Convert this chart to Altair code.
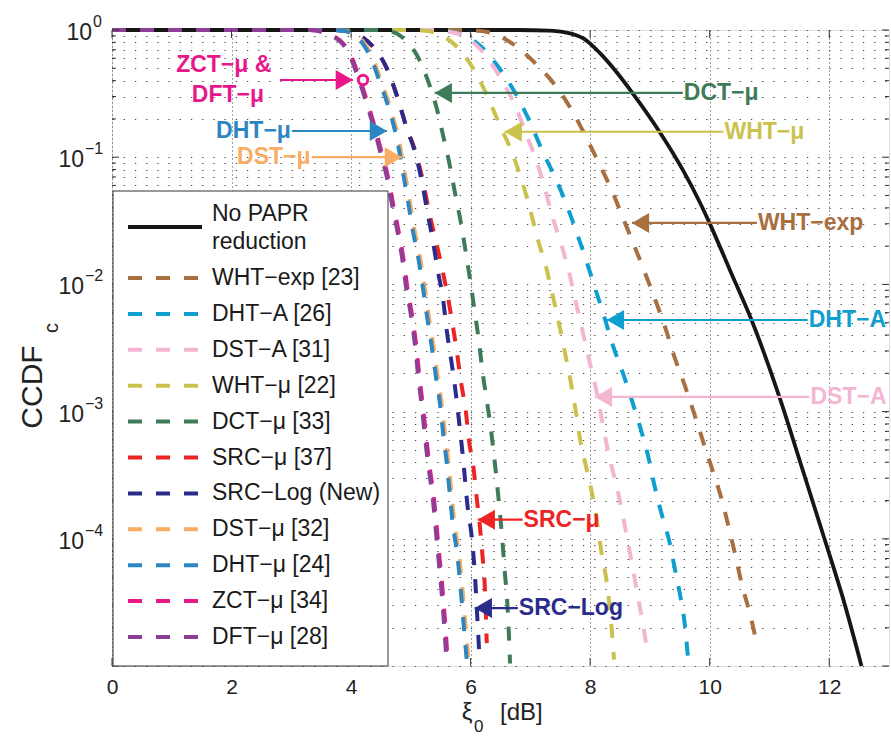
import altair as alt
import pandas as pd

# ---------------- values ----------------
series_names = ["No PAPR reduction", "WHT−exp [23]", "DHT−A [26]", "DST−A [31]",
                "WHT−μ [22]", "DCT−μ [33]", "SRC−μ [37]", "SRC−Log (New)",
                "DST−μ [32]", "DHT−μ [24]", "ZCT−μ [34]", "DFT−μ [28]"]
legend_labels = ["No PAPR\nreduction", "WHT−exp [23]", "DHT−A [26]", "DST−A [31]",
                 "WHT−μ [22]", "DCT−μ [33]", "SRC−μ [37]", "SRC−Log (New)",
                 "DST−μ [32]", "DHT−μ [24]", "ZCT−μ [34]", "DFT−μ [28]"]

# x: xi_0 [dB];  log10 of CCDF
nopapr_x = [0, 6.8, 7.3, 7.6, 7.9, 8.16, 8.44, 8.70, 9.16, 9.55, 9.83, 10.0, 10.35, 10.70, 11.17, 11.55, 11.92, 12.25, 12.54]
nopapr_log10 = [0, 0, -0.005, -0.02, -0.07, -0.18, -0.33, -0.49, -0.80, -1.10, -1.35, -1.52, -1.90, -2.28, -2.89, -3.45, -4.0, -4.5, -5.0]

whtexp_x = [0, 5.9, 6.1, 6.32, 6.55, 6.77, 7.11, 7.44, 7.71, 7.94, 8.16, 8.38, 8.56, 8.75, 8.91, 9.08, 9.25, 9.41, 9.58, 9.75, 9.90, 10.04, 10.17, 10.38, 10.55, 10.68, 10.80]
whtexp_log10 = [0, 0, -0.005, -0.02, -0.065, -0.13, -0.275, -0.45, -0.645, -0.85, -1.06, -1.28, -1.49, -1.71, -1.9, -2.11, -2.33, -2.57, -2.79, -3.03, -3.25, -3.45, -3.64, -4.03, -4.38, -4.6, -4.85]

dhta_x = [0, 5.2, 5.45, 5.70, 5.92, 6.15, 6.44, 6.74, 6.99, 7.21, 7.41, 7.61, 7.78, 7.94, 8.09, 8.24, 8.38, 8.55, 8.71, 8.86, 8.98, 9.08, 9.21, 9.33, 9.41, 9.50, 9.58, 9.64]
dhta_log10 = [0, 0, -0.004, -0.016, -0.05, -0.12, -0.275, -0.49, -0.72, -0.96, -1.155, -1.38, -1.6, -1.82, -2.04, -2.26, -2.48, -2.70, -2.93, -3.16, -3.37, -3.59, -3.83, -4.03, -4.22, -4.43, -4.66, -4.95]

dsta_x = [0, 5.3, 5.6, 5.85, 6.2, 6.49, 6.74, 6.94, 7.11, 7.24, 7.37, 7.52, 7.65, 7.76, 7.88, 7.99, 8.11, 8.2, 8.29, 8.38, 8.46, 8.54, 8.62, 8.71, 8.80, 8.88, 8.95]
dsta_log10 = [0, 0, -0.01, -0.04, -0.17, -0.37, -0.59, -0.83, -1.04, -1.24, -1.47, -1.69, -1.91, -2.14, -2.38, -2.61, -2.85, -3.07, -3.29, -3.47, -3.62, -3.8, -4.0, -4.22, -4.46, -4.66, -4.87]

whtmu_x = [0, 4.9, 5.15, 5.37, 5.58, 5.79, 6.04, 6.29, 6.49, 6.69, 6.86, 6.99, 7.12, 7.26, 7.37, 7.48, 7.58, 7.68, 7.76, 7.84, 7.94, 8.03, 8.11, 8.19, 8.28, 8.34, 8.40]
whtmu_log10 = [0, 0, -0.004, -0.016, -0.06, -0.14, -0.30, -0.53, -0.75, -0.96, -1.19, -1.40, -1.64, -1.86, -2.08, -2.31, -2.54, -2.78, -3.0, -3.24, -3.45, -3.64, -3.85, -4.11, -4.35, -4.6, -4.95]

dctmu_x = [0, 4.35, 4.6, 4.77, 4.95, 5.1, 5.28, 5.43, 5.54, 5.65, 5.75, 5.84, 5.92, 6.0, 6.07, 6.14, 6.2, 6.27, 6.34, 6.40, 6.46, 6.52, 6.57, 6.62, 6.66]
dctmu_log10 = [0, 0, -0.005, -0.03, -0.1, -0.197, -0.39, -0.61, -0.83, -1.06, -1.31, -1.52, -1.75, -1.99, -2.22, -2.45, -2.69, -2.91, -3.14, -3.38, -3.65, -3.95, -4.25, -4.55, -4.98]

srcmu_x = [0, 3.75, 4.0, 4.2, 4.4, 4.57, 4.78, 4.93, 5.08, 5.2, 5.31, 5.42, 5.53, 5.62, 5.70, 5.77, 5.84, 5.92, 5.97, 6.05, 6.10, 6.15, 6.20, 6.24, 6.27]
srcmu_log10 = [0, 0, -0.015, -0.06, -0.15, -0.275, -0.535, -0.77, -0.96, -1.18, -1.44, -1.66, -1.89, -2.1, -2.32, -2.53, -2.77, -3.0, -3.22, -3.45, -3.67, -3.88, -4.14, -4.4, -4.82]

srclog_x = [0, 3.75, 4.0, 4.2, 4.4, 4.57, 4.78, 4.93, 5.07, 5.18, 5.28, 5.37, 5.45, 5.54, 5.6, 5.67, 5.74, 5.80, 5.87, 5.95, 6.02, 6.07, 6.11, 6.15]
srclog_log10 = [0, 0, -0.015, -0.06, -0.15, -0.275, -0.535, -0.77, -0.96, -1.18, -1.44, -1.66, -1.89, -2.12, -2.36, -2.58, -2.81, -3.05, -3.35, -3.75, -3.99, -4.27, -4.6, -4.95]

dstmu_x = [0, 3.62, 3.88, 4.06, 4.23, 4.34, 4.51, 4.68, 4.80, 4.90, 4.98, 5.06, 5.15, 5.23, 5.31, 5.38, 5.45, 5.52, 5.57, 5.63, 5.68, 5.73, 5.80, 5.85, 5.90, 5.97]
dstmu_log10 = [0, 0, -0.005, -0.03, -0.11, -0.197, -0.41, -0.645, -0.865, -1.125, -1.34, -1.57, -1.78, -2.02, -2.28, -2.49, -2.73, -2.95, -3.17, -3.40, -3.64, -3.88, -4.1, -4.32, -4.6, -4.98]

dhtmu_x = [0, 3.6, 3.85, 4.03, 4.2, 4.31, 4.48, 4.65, 4.77, 4.87, 4.95, 5.03, 5.12, 5.2, 5.28, 5.35, 5.42, 5.49, 5.54, 5.60, 5.65, 5.70, 5.77, 5.82, 5.87, 5.94]
dhtmu_log10 = [0, 0, -0.005, -0.03, -0.11, -0.197, -0.41, -0.645, -0.865, -1.125, -1.34, -1.57, -1.78, -2.02, -2.28, -2.49, -2.73, -2.95, -3.17, -3.40, -3.64, -3.88, -4.1, -4.32, -4.6, -4.98]

zctmu_x = [0, 3.32, 3.62, 3.95, 4.15, 4.30, 4.42, 4.52, 4.62, 4.70, 4.79, 4.87, 4.94, 5.04, 5.09, 5.14, 5.20, 5.25, 5.30, 5.39, 5.47, 5.54, 5.62]
zctmu_log10 = [0, 0, -0.03, -0.157, -0.39, -0.61, -0.80, -0.98, -1.16, -1.36, -1.57, -1.78, -2.02, -2.30, -2.48, -2.71, -2.95, -3.17, -3.38, -3.7, -4.1, -4.45, -4.98]

dftmu_x = [0, 3.3, 3.6, 3.93, 4.13, 4.28, 4.40, 4.50, 4.60, 4.68, 4.77, 4.85, 4.92, 5.02, 5.07, 5.12, 5.18, 5.23, 5.28, 5.37, 5.45, 5.52, 5.60]
dftmu_log10 = [0, 0, -0.03, -0.157, -0.39, -0.61, -0.80, -0.98, -1.16, -1.36, -1.57, -1.78, -2.02, -2.30, -2.48, -2.71, -2.95, -3.17, -3.38, -3.7, -4.1, -4.45, -4.98]

curve_x = [nopapr_x, whtexp_x, dhta_x, dsta_x, whtmu_x, dctmu_x, srcmu_x, srclog_x, dstmu_x, dhtmu_x, zctmu_x, dftmu_x]
curve_log10 = [nopapr_log10, whtexp_log10, dhta_log10, dsta_log10, whtmu_log10, dctmu_log10, srcmu_log10, srclog_log10, dstmu_log10, dhtmu_log10, zctmu_log10, dftmu_log10]

# annotations (arrow from tail to head, in data units)
arrow_series = ["ZCT−μ [34]", "DHT−μ [24]", "DST−μ [32]", "DCT−μ [33]", "WHT−μ [22]",
                "WHT−exp [23]", "DHT−A [26]", "DST−A [31]", "SRC−μ [37]", "SRC−Log (New)"]
arrow_text = ["", "DHT−μ", "DST−μ", "DCT−μ", "WHT−μ", "WHT−exp", "DHT−A", "DST−A", "SRC−μ", "SRC−Log"]
arrow_tail_x = [2.81, 3.01, 3.34, 9.55, 10.23, 10.79, 11.64, 11.67, 6.87, 6.79]
arrow_head_x = [4.03, 4.60, 4.85, 5.40, 6.57, 8.70, 8.28, 8.08, 6.12, 6.07]
arrow_log10 = [-0.393, -0.794, -1.0, -0.495, -0.80, -1.517, -2.28, -2.885, -3.85, -4.545]

zct_text = ["ZCT−μ &", "DFT−μ"]
zct_text_x = [1.87, 1.94]
zct_text_log10 = [-0.275, -0.511]
zct_marker_x = [4.20]
zct_marker_log10 = [-0.393]

x_ticks = [0, 2, 4, 6, 8, 10, 12]
y_decades = [0, -1, -2, -3, -4, -5]
y_labelled_decades = [0, -1, -2, -3, -4]

# ---------------- styles ----------------
colors = {
    "No PAPR reduction": "#161616",
    "WHT−exp [23]": "#A86F40",
    "DHT−A [26]": "#0E9FD0",
    "DST−A [31]": "#F4B5D3",
    "WHT−μ [22]": "#CBC24E",
    "DCT−μ [33]": "#3E7B58",
    "SRC−μ [37]": "#EE2424",
    "SRC−Log (New)": "#2A2B8C",
    "DST−μ [32]": "#F9AC63",
    "DHT−μ [24]": "#2C86C1",
    "ZCT−μ [34]": "#E8178A",
    "DFT−μ [28]": "#8C3F95",
}
DASH = [14, 14]
FONT = "Liberation Sans"

# ---------------- scales / axes ----------------
ytick_all = sorted(set([k * 10.0 ** e for e in range(-5, 0) for k in range(1, 10)] + [1.0]))
xscale = alt.Scale(domain=[0, 13], nice=False, zero=False)
yscale = alt.Scale(type="log", domain=[1e-5, 1], nice=False)
x_axis = alt.Axis(values=x_ticks, grid=True, gridDash=[1, 3], gridColor="#444", gridWidth=1,
                  ticks=False, domain=False, labelFont=FONT, labelFontSize=21, labelColor="#222",
                  labelPadding=10, title=None, labelFlush=False)
y_axis = alt.Axis(values=ytick_all, grid=True, gridDash=[1.3, 9.9], gridColor="#444", gridWidth=1.1,
                  ticks=False, labels=False, domain=False, title=None)


def X(field="x"):
    return alt.X(f"{field}:Q", scale=xscale, axis=x_axis)


def Y(field="ccdf"):
    return alt.Y(f"{field}:Q", scale=yscale, axis=y_axis)


layers = []

# ---- curves ----
for name, xs, lg in zip(series_names, curve_x, curve_log10):
    df = pd.DataFrame({"x": xs, "ccdf": [10.0 ** v for v in lg]})
    if name == "No PAPR reduction":
        mk = alt.Chart(df).mark_line(color=colors[name], strokeWidth=3.8, interpolate="monotone")
    else:
        mk = alt.Chart(df).mark_line(color=colors[name], strokeWidth=4, strokeDash=DASH,
                                     strokeCap="butt", interpolate="monotone")
    layers.append(mk.encode(x=X(), y=Y()))

# ---- axis ticks (inward, MATLAB style) ----
xt_df = pd.DataFrame({"x": x_ticks})
layers.append(alt.Chart(xt_df).mark_rule(color="#333", strokeWidth=1).encode(x=X(), y=alt.value(636), y2=alt.value(628)))
layers.append(alt.Chart(xt_df).mark_rule(color="#333", strokeWidth=1).encode(x=X(), y=alt.value(0), y2=alt.value(8)))
maj_df = pd.DataFrame({"ccdf": [10.0 ** e for e in y_decades]})
min_df = pd.DataFrame({"ccdf": [v for v in ytick_all if all(abs(v - 10.0 ** e) > 1e-12 for e in y_decades)]})
for d, ln in [(maj_df, 7), (min_df, 4)]:
    layers.append(alt.Chart(d).mark_rule(color="#333", strokeWidth=1).encode(y=Y(), x=alt.value(0), x2=alt.value(ln)))
    layers.append(alt.Chart(d).mark_rule(color="#333", strokeWidth=1).encode(y=Y(), x=alt.value(777), x2=alt.value(777 - ln)))

# ---- y tick labels 10^k ----
ylab_df = pd.DataFrame({"ccdf": [10.0 ** e for e in y_labelled_decades],
                        "exp": [("−" + str(-e)) if e < 0 else "0" for e in y_labelled_decades]})
for cond, ex in [("datum.exp == '0'", -19), ("datum.exp != '0'", -27)]:
    base = alt.Chart(ylab_df).transform_filter(cond)
    layers.append(base.mark_text(align="right", baseline="middle", font=FONT, fontSize=23, color="#222", dy=3)
                  .encode(y=Y(), x=alt.value(ex - 1), text=alt.value("10")))
    layers.append(base.mark_text(align="left", baseline="middle", font=FONT, fontSize=16, color="#222", dy=-8)
                  .encode(y=Y(), x=alt.value(ex), text="exp:N"))

# ---- axis titles ----
one = pd.DataFrame({"a": [0]})
layers.append(alt.Chart(one).mark_text(angle=270, align="center", baseline="middle", font=FONT, fontSize=30, color="#222")
              .encode(x=alt.value(-79), y=alt.value(357), text=alt.value("CCDF")))
layers.append(alt.Chart(one).mark_text(angle=270, align="center", baseline="middle", font=FONT, fontSize=20, color="#222")
              .encode(x=alt.value(-60), y=alt.value(298), text=alt.value("c")))
layers.append(alt.Chart(one).mark_text(align="center", baseline="middle", font=FONT, fontSize=24, color="#222")
              .encode(x=alt.value(355), y=alt.value(683), text=alt.value("ξ")))
layers.append(alt.Chart(one).mark_text(align="left", baseline="middle", font=FONT, fontSize=17, color="#222")
              .encode(x=alt.value(362), y=alt.value(697), text=alt.value("0")))
layers.append(alt.Chart(one).mark_text(align="left", baseline="middle", font=FONT, fontSize=24, color="#222")
              .encode(x=alt.value(388), y=alt.value(683), text=alt.value("[dB]")))

# ---- legend (drawn by hand, MATLAB style) ----
layers.append(alt.Chart(one).mark_rect(fill="white", stroke="#333", strokeWidth=1)
              .encode(x=alt.value(1), x2=alt.value(276), y=alt.value(161), y2=alt.value(636)))
leg_df = pd.DataFrame({"series": series_names, "label": legend_labels, "i": list(range(len(series_names))),
                       "color": [colors[s] for s in series_names]})
leg = alt.Chart(leg_df).transform_calculate(
    ll="datum.i == 0 ? 197 : 248 + 35.9 * (datum.i - 1)",
    lt="datum.i == 0 ? 183.5 : 248 + 35.9 * (datum.i - 1)")
layers.append(leg.mark_rule(strokeWidth=4, strokeCap="butt").encode(
    x=alt.value(16), x2=alt.value(90), y=alt.Y("ll:Q", scale=None),
    color=alt.Color("color:N", scale=None),
    strokeDash=alt.StrokeDash("series:N", scale=alt.Scale(domain=series_names, range=[[1, 0]] + [DASH] * 11), legend=None)))
layers.append(leg.mark_text(align="left", baseline="middle", font=FONT, fontSize=23, color="#1a1a1a",
                            lineBreak="\n", lineHeight=28.5)
              .encode(x=alt.value(100), y=alt.Y("lt:Q", scale=None), text="label:N"))

# ---- annotations ----
arr_df = pd.DataFrame({"series": arrow_series, "label": arrow_text, "xt": arrow_tail_x, "xh": arrow_head_x,
                       "ccdf": [10.0 ** v for v in arrow_log10],
                       "color": [colors[s] for s in arrow_series]})
arr_df["dir"] = ["right" if h > t else "left" for t, h in zip(arrow_tail_x, arrow_head_x)]
arr = alt.Chart(arr_df)
layers.append(arr.mark_rule(strokeWidth=2.2).encode(x=X("xt"), x2="xh:Q", y=Y(), color=alt.Color("color:N", scale=None)))
layers.append(arr.transform_filter("datum.dir == 'right'").mark_point(shape="triangle-right", filled=True, size=400, opacity=1, xOffset=-8.5)
              .encode(x=X("xh"), y=Y(), color=alt.Color("color:N", scale=None)))
layers.append(arr.transform_filter("datum.dir == 'left'").mark_point(shape="triangle-left", filled=True, size=400, opacity=1, xOffset=8.5)
              .encode(x=X("xh"), y=Y(), color=alt.Color("color:N", scale=None)))
layers.append(arr.transform_filter("datum.dir == 'right' && datum.label != ''").mark_text(
    align="right", baseline="middle", font=FONT, fontWeight="bold", fontSize=23, dx=-1)
    .encode(x=X("xt"), y=Y(), text="label:N", color=alt.Color("color:N", scale=None)))
layers.append(arr.transform_filter("datum.dir == 'left'").mark_text(
    align="left", baseline="middle", font=FONT, fontWeight="bold", fontSize=23, dx=1)
    .encode(x=X("xt"), y=Y(), text="label:N", color=alt.Color("color:N", scale=None)))

zct_df = pd.DataFrame({"x": zct_text_x, "ccdf": [10.0 ** v for v in zct_text_log10], "label": zct_text})
layers.append(alt.Chart(zct_df).mark_text(align="center", baseline="middle", font=FONT, fontWeight="bold",
                                          fontSize=23, color=colors["ZCT−μ [34]"])
              .encode(x=X(), y=Y(), text="label:N"))
zm_df = pd.DataFrame({"x": zct_marker_x, "ccdf": [10.0 ** v for v in zct_marker_log10]})
layers.append(alt.Chart(zm_df).mark_point(shape="circle", filled=False, size=90, strokeWidth=3,
                                          color=colors["ZCT−μ [34]"], opacity=1)
              .encode(x=X(), y=Y()))

chart = alt.layer(*layers).properties(
    width=777, height=636,
    autosize=alt.AutoSizeParams(type="none"),
    padding={"left": 112, "top": 30, "right": 2, "bottom": 74},
).configure_view(stroke="#333", strokeWidth=1).configure(background="white")

chart.save("out.html", embed_options={"renderer": "svg", "actions": False})
